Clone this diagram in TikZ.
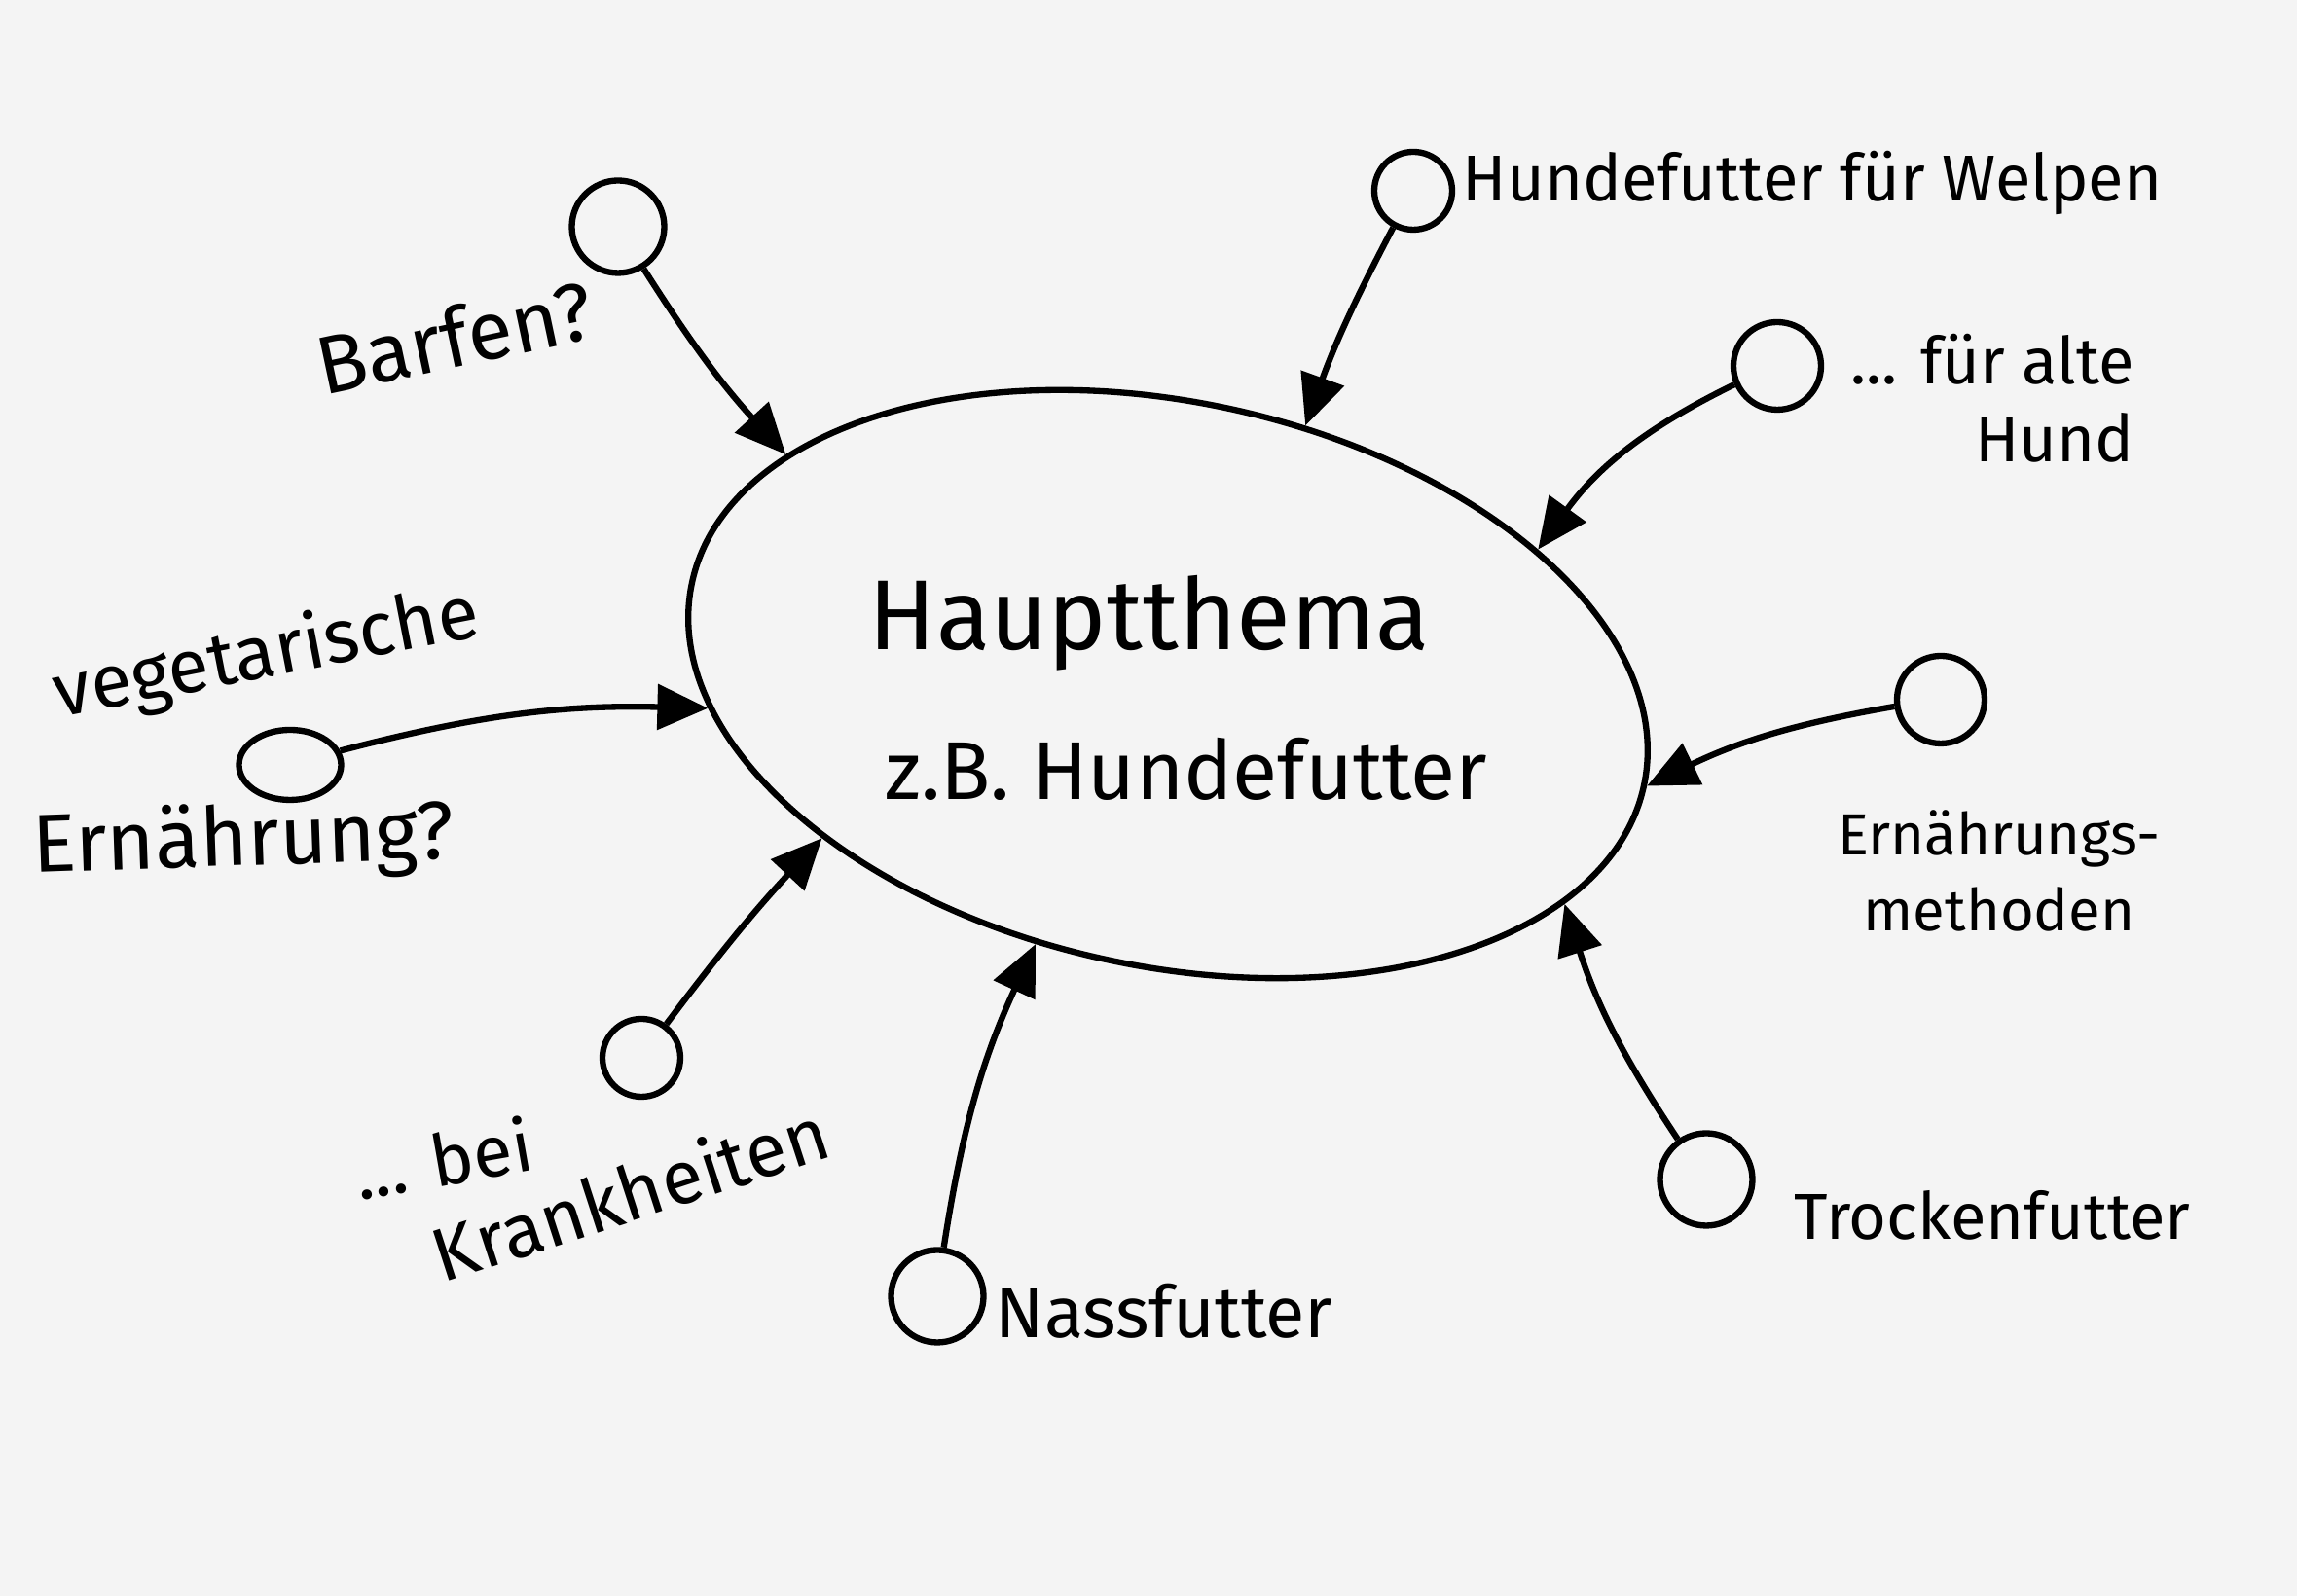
\documentclass[tikz,border=0pt]{standalone}
\usepackage{fontspec}
\setmainfont{Fira Sans}
\usetikzlibrary{arrows.meta,shapes.geometric}
\definecolor{paper}{HTML}{F4F4F4}
\newcommand{\fs}[1]{\fontsize{#1}{1.2\dimexpr#1pt\relax}\selectfont}
\begin{document}
\begin{tikzpicture}[
    line width=1.8pt,
    topic/.style={draw, ellipse, minimum width=10.0cm, minimum height=5.8cm,
                  inner sep=0pt, rotate=-12},
    dot/.style={draw, circle, minimum size=0.8cm, inner sep=0pt},
    label/.style={align=center, inner sep=1pt},
    arrow/.style={-{Triangle[length=5.2mm,width=4.6mm]}}
]
% paper
\fill[paper] (0,0) rectangle (23.6,16.4);
\useasboundingbox (0,0) rectangle (23.6,16.4);

% main topic
\node[topic] (main) at (12.0,9.37) {};
\node[label, font=\fs{29}] (title) at (11.81,10.0) {Hauptthema};
\node[label, font=\fs{24}] (sub) at (12.19,8.5) {z.B. Hundefutter};

% subtopics
\node[dot, minimum size=0.95cm] (barf) at (6.35,14.07) {};
\node[dot] (welp) at (14.52,14.44) {};
\node[dot, minimum size=0.9cm] (alt) at (18.26,12.64) {};
\node[dot, minimum size=0.9cm] (meth) at (19.94,9.21) {};
\node[dot, minimum size=0.95cm] (trock) at (17.53,4.28) {};
\node[dot, minimum size=0.95cm] (nass) at (9.63,3.08) {};
\node[dot] (krank) at (6.59,5.53) {};
\node[draw, ellipse, minimum width=1.05cm, minimum height=0.72cm,
      inner sep=0pt] (veg) at (2.98,8.54) {};

\node[label, font=\fs{24}, rotate=12] (barfL) at (4.67,12.94) {Barfen?};
\node[label, font=\fs{19}] (welpL) at (18.62,14.52) {Hundefutter für Welpen};
\node[label, font=\fs{19}, align=right] (altL) at (20.47,12.31) {... für alte\\Hund};
\node[label, font=\fs{17}] (methL) at (20.54,7.45) {Ernährungs-\\[2pt]methoden};
\node[label, font=\fs{19}] (trockL) at (20.47,3.91) {Trockenfutter};
\node[label, font=\fs{21}] (nassL) at (11.96,2.93) {Nassfutter};
\node[label, font=\fs{21}, rotate=10] (beiL) at (4.55,4.50) {... bei};
\node[label, font=\fs{22}, rotate=18] (krankL) at (6.47,4.15) {Krankheiten};
\node[label, font=\fs{22}, rotate=11] (vegL) at (2.74,9.66) {vegetarische};
\node[label, font=\fs{24}, rotate=2] (ernL) at (2.50,7.74) {Ernährung?};

% connectors
\foreach \c/\ang/\bend in {barf/161/-5, welp/74.5/-4, alt/32.6/-14, meth/-0.3/-8,
                           trock/-17.3/8, nass/255.6/8, krank/216.5/3, veg/195.4/8} {
    \draw[arrow] (\c) to[bend left=\bend] (main.\ang);
}
\end{tikzpicture}
\end{document}
